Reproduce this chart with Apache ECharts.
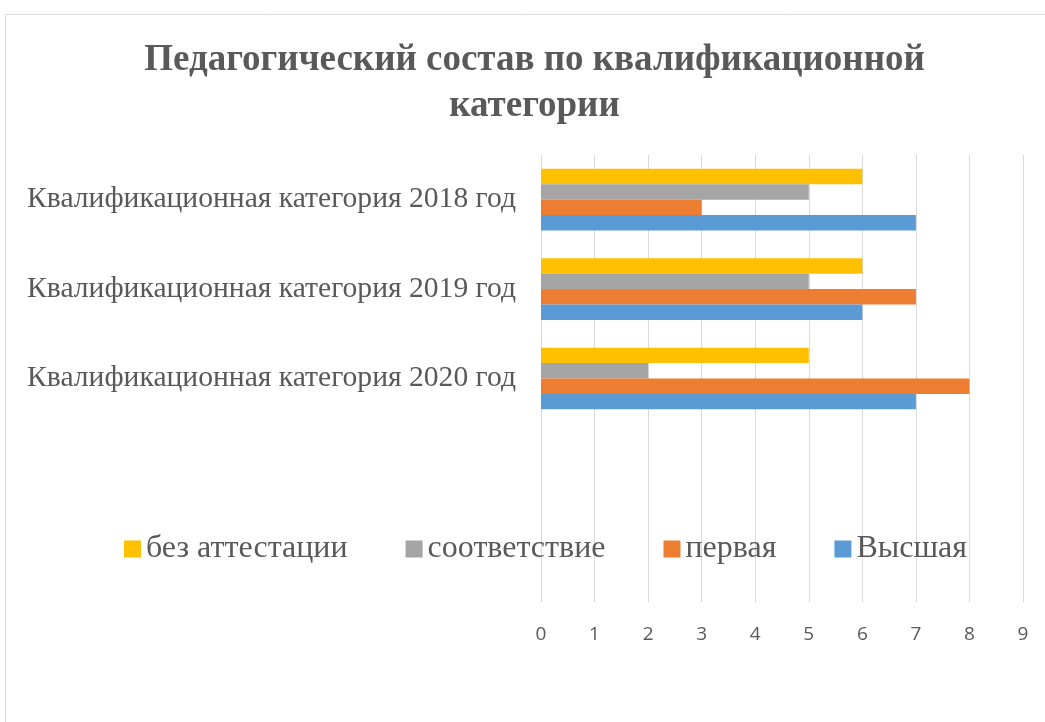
<!DOCTYPE html>
<html>
<head>
<meta charset="utf-8">
<script src="https://cdn.jsdelivr.net/npm/echarts@6/dist/echarts.min.js"></script>
<style>
  html, body { margin: 0; padding: 0; background: #fff; }
  #chart { width: 1045px; height: 722px; }
</style>
</head>
<body>
<div id="chart"></div>
<script>
// категории (две пустые строки внизу, как в исходной диаграмме)
const categories = [
  'Квалификационная категория 2018 год',
  'Квалификационная категория 2019 год',
  'Квалификационная категория 2020 год',
  '',
  ' '
]
const seriesNames = ['без аттестации', 'соответствие', 'первая', 'Высшая']
const bezAttestacii = [6, 6, 5]
const sootvetstvie = [5, 5, 2]
const pervaya = [3, 7, 8]
const vysshaya = [7, 6, 7]
const xTicks = [0, 1, 2, 3, 4, 5, 6, 7, 8, 9]

const colors = ['#FFC000', '#A5A5A5', '#ED7D31', '#5B9BD5']
const serif = '"Liberation Serif", "DejaVu Serif", serif'

const chart = echarts.init(document.getElementById('chart'))

const values = [bezAttestacii, sootvetstvie, pervaya, vysshaya]

const option = {
  animation: false,
  graphic: [{
    type: 'rect',
    shape: { x: 5.5, y: 14.5, width: 1100, height: 800 },
    style: { fill: 'none', stroke: '#d9d9d9', lineWidth: 1 },
    silent: true
  }],
  title: {
    text: 'Педагогический состав по квалификационной\nкатегории',
    left: 534.5,
    textAlign: 'center',
    top: 37,
    padding: 0,
    textStyle: {
      fontFamily: serif,
      fontWeight: 'bold',
      fontSize: 37,
      lineHeight: 46,
      color: '#595959'
    }
  },
  legend: {
    data: seriesNames,
    left: 124,
    top: 533,
    padding: 0,
    icon: 'rect',
    itemWidth: 17,
    itemHeight: 17,
    itemGap: 58,
    textStyle: {
      fontFamily: serif,
      fontSize: 32,
      color: '#595959'
    }
  },
  grid: {
    left: 541,
    right: 22,
    top: 155,
    bottom: 120,
    containLabel: false
  },
  xAxis: {
    type: 'value',
    min: xTicks[0],
    max: xTicks[xTicks.length - 1],
    interval: 1,
    axisLine: { show: false },
    axisTick: { show: false },
    axisLabel: {
      margin: 23,
      fontFamily: '"Open Sans", sans-serif',
      fontSize: 19,
      color: '#595959'
    },
    splitLine: { lineStyle: { color: '#d9d9d9', width: 1 } }
  },
  yAxis: {
    type: 'category',
    inverse: true,
    data: categories,
    axisLine: { show: false },
    axisTick: { show: false },
    axisLabel: {
      margin: 25,
      fontFamily: serif,
      fontSize: 29.6,
      color: '#595959'
    },
    splitLine: { show: false }
  },
  series: seriesNames.map((name, i) => ({
    name: name,
    type: 'bar',
    data: values[i],
    barGap: '0%',
    barCategoryGap: '31%',
    itemStyle: { color: colors[i] }
  }))
}

chart.setOption(option)
</script>
</body>
</html>
